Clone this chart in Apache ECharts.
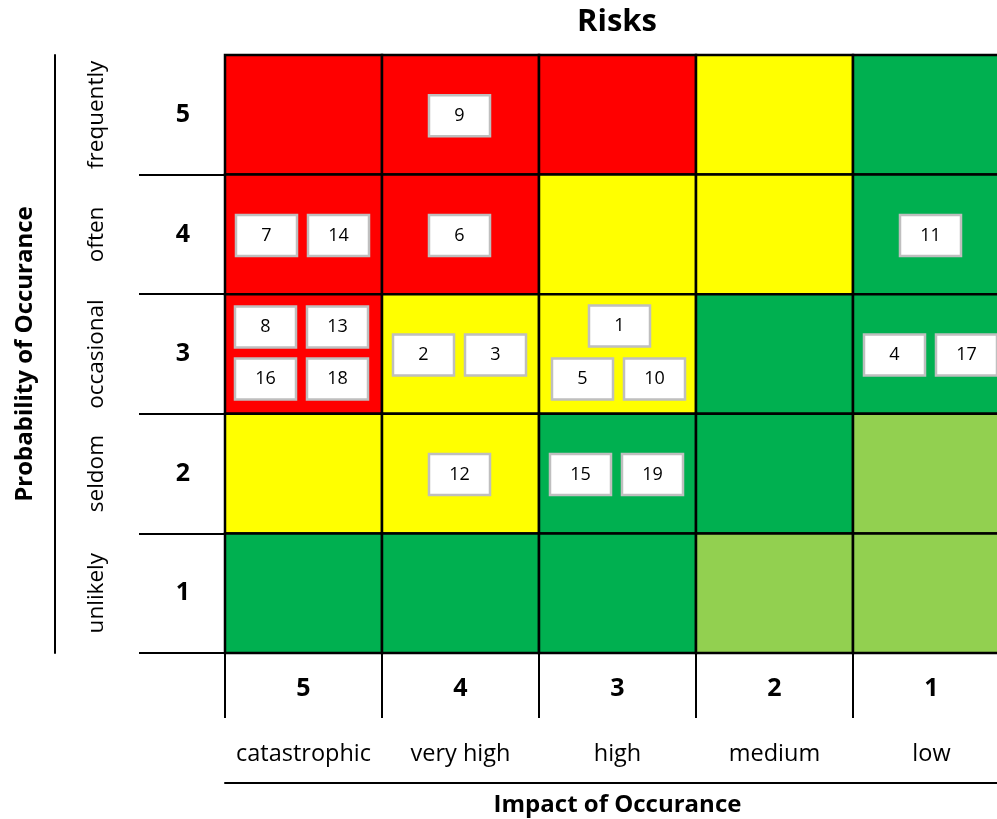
<!DOCTYPE html>
<html>
<head>
<meta charset="utf-8">
<title>Risks</title>
<script src="https://cdn.jsdelivr.net/npm/echarts@6/dist/echarts.min.js"></script>
<style>
  html, body { margin: 0; padding: 0; background: #ffffff; }
  #chart { width: 997px; height: 819px; }
</style>
</head>
<body>
<div id="chart"></div>
<script>
// Impact axis (left to right) and probability axis (top to bottom)
const impactLevels = ['5', '4', '3', '2', '1'];
const impactNames = ['catastrophic', 'very high', 'high', 'medium', 'low'];
const probabilityLevels = ['5', '4', '3', '2', '1'];
const probabilityNames = ['frequently', 'often', 'occasional', 'seldom', 'unlikely'];

// Rating of every cell, one list per probability level, columns follow impactLevels
const ratingP5 = ['high', 'high', 'high', 'medium', 'low'];
const ratingP4 = ['high', 'high', 'medium', 'medium', 'low'];
const ratingP3 = ['high', 'medium', 'medium', 'low', 'low'];
const ratingP2 = ['medium', 'medium', 'low', 'low', 'minimal'];
const ratingP1 = ['low', 'low', 'low', 'minimal', 'minimal'];

// Registered risks with their assessed impact and probability
const riskIds = [1, 2, 3, 4, 5, 6, 7, 8, 9, 10, 11, 12, 13, 14, 15, 16, 17, 18, 19];
const riskImpact = [3, 4, 4, 1, 3, 4, 5, 5, 4, 3, 1, 4, 5, 5, 3, 5, 1, 5, 3];
const riskProbability = [3, 3, 3, 3, 3, 4, 4, 3, 5, 3, 4, 2, 3, 4, 2, 3, 3, 3, 2];

// ---- styling ----
const ratingColors = { high: '#ff0000', medium: '#ffff00', low: '#00b050', minimal: '#92d050' };
const FONT = 'Open Sans';
const BOX_W = 61, BOX_H = 41;
// pixel offsets of the risk boxes inside one cell, by number of risks in the cell
const slotLayouts = {
  1: [[-1, 1]],
  2: [[-37, 1], [35, 1]],
  3: [[2, -28], [-35, 25], [37, 25]],
  4: [[-38, -27], [34, -27], [-38, 25], [34, 25]]
};

// cell table for the matrix
const ratingRows = [ratingP5, ratingP4, ratingP3, ratingP2, ratingP1];
const cellData = [];
const cellRatings = [];
ratingRows.forEach(function (row, r) {
  row.forEach(function (rating, c) {
    cellData.push([impactLevels[c], probabilityLevels[r]]);
    cellRatings.push(rating);
  });
});

// group risks per cell to know their slot
const cellMembers = {};
riskIds.forEach(function (id, i) {
  const key = riskImpact[i] + '|' + riskProbability[i];
  (cellMembers[key] = cellMembers[key] || []).push(i);
});
const riskData = riskIds.map(function (id, i) {
  return [String(riskImpact[i]), String(riskProbability[i]), id];
});
const riskSlot = riskIds.map(function (id, i) {
  const members = cellMembers[riskImpact[i] + '|' + riskProbability[i]];
  return slotLayouts[members.length][members.indexOf(i)];
});

const chart = echarts.init(document.getElementById('chart'), null, { renderer: 'canvas' });

chart.setOption({
  backgroundColor: '#ffffff',
  animation: false,
  textStyle: { fontFamily: FONT },
  title: {
    text: 'Risks',
    left: 617,
    top: 7,
    padding: 0,
    textAlign: 'center',
    textStyle: { fontFamily: FONT, fontWeight: 'bold', fontSize: 31, color: '#000' }
  },
  // the matrix runs past the right edge of the canvas
  grid: {
    left: 225, top: 55, width: 785, height: 598,
    containLabel: false, outerBoundsMode: 'none'
  },
  xAxis: [
    {
      type: 'category',
      data: impactLevels,
      position: 'bottom',
      axisLine: { show: false },
      axisTick: { show: true, length: 65, interval: 0, lineStyle: { color: '#000', width: 2 } },
      axisLabel: {
        interval: 0, hideOverlap: false,
        margin: 36, verticalAlign: 'middle', fontFamily: FONT,
        fontWeight: 'bold', fontSize: 25, color: '#000'
      },
      splitLine: { show: false }
    },
    {
      type: 'category',
      data: impactNames,
      position: 'bottom',
      offset: 130,
      axisLine: { show: true, lineStyle: { color: '#000', width: 2 } },
      axisTick: { show: false },
      axisLabel: {
        interval: 0, hideOverlap: false,
        inside: true, margin: 29, verticalAlign: 'middle',
        fontFamily: FONT, fontSize: 23.5, color: '#000'
      },
      name: 'Impact of Occurance',
      nameLocation: 'middle',
      nameGap: 22,
      nameTextStyle: {
        fontFamily: FONT, fontWeight: 'bold', fontSize: 24, color: '#000', verticalAlign: 'middle'
      },
      splitLine: { show: false }
    }
  ],
  yAxis: [
    {
      type: 'category',
      data: probabilityLevels,
      inverse: true,
      position: 'left',
      axisLine: { show: false },
      axisTick: {
        show: true, length: 86,
        interval: function (index) { return index > 0; },
        lineStyle: { color: '#000', width: 2 }
      },
      axisLabel: {
        interval: 0, hideOverlap: false,
        margin: 42, align: 'center', verticalAlign: 'middle',
        fontFamily: FONT, fontWeight: 'bold', fontSize: 25, color: '#000'
      },
      splitLine: { show: false }
    },
    {
      type: 'category',
      data: probabilityNames,
      inverse: true,
      position: 'left',
      offset: 170,
      axisLine: { show: true, lineStyle: { color: '#000', width: 2 } },
      axisTick: { show: false },
      axisLabel: {
        interval: 0, hideOverlap: false,
        inside: true, rotate: 90, margin: 42, align: 'center', verticalAlign: 'middle',
        fontFamily: FONT, fontSize: 22.5, color: '#000'
      },
      name: 'Probability of Occurance',
      nameLocation: 'middle',
      nameGap: 30,
      nameTextStyle: {
        fontFamily: FONT, fontWeight: 'bold', fontSize: 24, color: '#000', verticalAlign: 'middle'
      },
      splitLine: { show: false }
    }
  ],
  series: [
    {
      name: 'cells',
      type: 'custom',
      xAxisIndex: 0,
      yAxisIndex: 0,
      data: cellData,
      silent: true,
      renderItem: function (params, api) {
        const c = api.coord([api.value(0), api.value(1)]);
        const s = api.size([1, 1]);
        return {
          type: 'rect',
          shape: { x: c[0] - s[0] / 2, y: c[1] - s[1] / 2, width: s[0], height: s[1] },
          style: { fill: ratingColors[cellRatings[params.dataIndex]], stroke: '#000', lineWidth: 2.5 }
        };
      }
    },
    {
      name: 'risks',
      type: 'custom',
      xAxisIndex: 0,
      yAxisIndex: 0,
      data: riskData,
      z: 5,
      renderItem: function (params, api) {
        const c = api.coord([api.value(0), api.value(1)]);
        const off = riskSlot[params.dataIndex];
        const cx = c[0] + off[0], cy = c[1] + off[1];
        return {
          type: 'group',
          children: [
            {
              type: 'rect',
              shape: { x: cx - BOX_W / 2, y: cy - BOX_H / 2, width: BOX_W, height: BOX_H },
              style: { fill: '#ffffff', stroke: '#bfbfbf', lineWidth: 2.5 }
            },
            {
              type: 'text',
              x: cx, y: cy,
              style: {
                text: String(api.value(2)),
                fill: '#000', fontFamily: FONT, fontSize: 18,
                align: 'center', verticalAlign: 'middle'
              }
            }
          ]
        };
      }
    }
  ]
});
</script>
</body>
</html>
